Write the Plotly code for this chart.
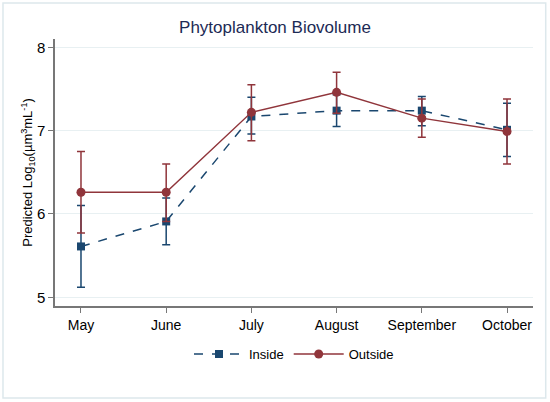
import plotly.graph_objects as go

months = ["May", "June", "July", "August", "September", "October"]

# predicted values and confidence limits
inside_mean = [5.61, 5.91, 7.17, 7.24, 7.24, 7.01]
inside_upper = [6.10, 6.19, 7.40, 7.43, 7.41, 7.33]
inside_lower = [5.12, 5.63, 6.96, 7.05, 7.06, 6.69]

outside_mean = [6.26, 6.26, 7.22, 7.46, 7.15, 6.99]
outside_upper = [6.75, 6.60, 7.55, 7.70, 7.38, 7.38]
outside_lower = [5.77, 5.91, 6.88, 7.21, 6.92, 6.60]

blue = "#1a476f"
red = "#90353b"


def make_trace(name, mean, upper, lower, color, dash, symbol, size):
    # error bars are the distances from the point to each limit
    plus = [u - m for u, m in zip(upper, mean)]
    minus = [m - l for m, l in zip(mean, lower)]
    return go.Scatter(
        x=months,
        y=mean,
        name=name,
        mode="lines+markers",
        line=dict(color=color, width=1.5, dash=dash),
        marker=dict(color=color, symbol=symbol, size=size),
        error_y=dict(type="data", symmetric=False, array=plus, arrayminus=minus,
                     color=color, thickness=1.5, width=4),
    )


fig = go.Figure()
fig.add_trace(make_trace("Inside", inside_mean, inside_upper, inside_lower,
                         blue, "dash", "square", 8))
fig.add_trace(make_trace("Outside", outside_mean, outside_upper, outside_lower,
                         red, "solid", "circle", 9))

fig.update_layout(
    width=550,
    height=402,
    margin=dict(l=55, r=17, t=39, b=96, autoexpand=False),
    plot_bgcolor="white",
    paper_bgcolor="white",
    font=dict(family="Liberation Sans, Arial, sans-serif", size=13, color="black"),
    title=dict(text="Phytoplankton Biovolume", x=0.5, xref="container", xanchor="center",
               y=1 - 26.7 / 402, yref="container", yanchor="middle",
               font=dict(size=17, color="#1c2a55")),
    legend=dict(orientation="h", x=0.5, xanchor="center", y=-0.18, yanchor="middle",
                itemwidth=50, font=dict(size=13)),
    xaxis=dict(type="category", range=[-0.305, 5.305], showline=True, linecolor="#777777",
               linewidth=1.5, ticks="outside", ticklen=5, tickcolor="#777777",
               showgrid=False, zeroline=False, automargin=False,
               tickfont=dict(size=14)),
    yaxis=dict(range=[4.895, 8.1], tickvals=[5, 6, 7, 8], showline=True, linecolor="#777777",
               linewidth=1.5, ticks="outside", ticklen=5, tickcolor="#777777",
               showgrid=True, gridcolor="#e8f0f2", gridwidth=1, zeroline=False,
               automargin=False, tickfont=dict(size=15),
               title=dict(text="Predicted Log<sub>10</sub>(µm<sup>3</sup>mL<sup>-1</sup>)",
                          standoff=0, font=dict(size=13))),
    shapes=[dict(type="rect", xref="paper", yref="paper",
                 x0=-0.1088, x1=1.0266, y0=-0.3446, y1=1.1348,
                 line=dict(color="#dde8ec", width=1.5), layer="below")],
)

# drop the browser's default page margin so the figure sits at the corner
fig.write_html("out.html", post_script="document.body.style.margin='0';",
               config={"displayModeBar": False})
